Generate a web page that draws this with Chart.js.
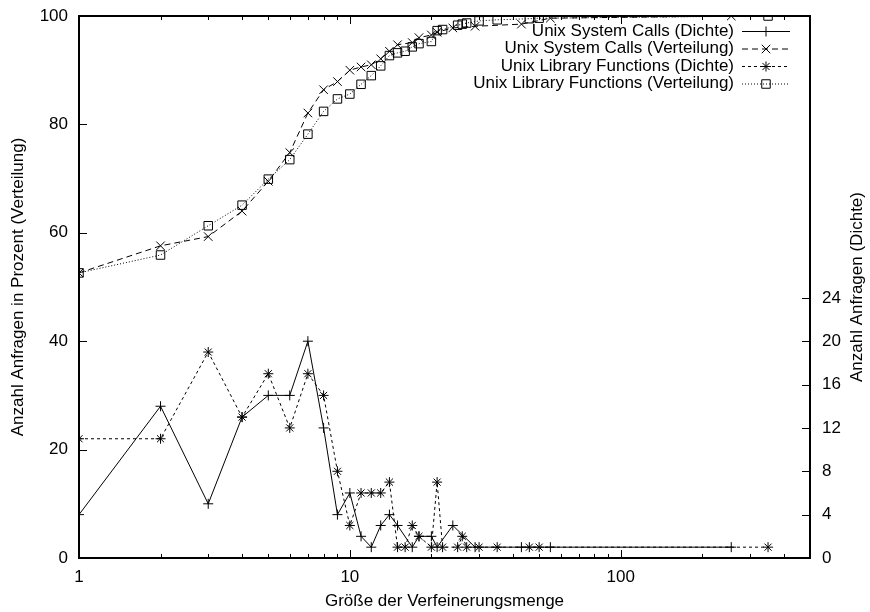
<!DOCTYPE html>
<html>
<head>
<meta charset="utf-8">
<script src="https://cdn.jsdelivr.net/npm/chart.js@4/dist/chart.umd.min.js"></script>
<style>
  body { margin: 0; background: #fff; }
  canvas { display: block; }
</style>
</head>
<body>
<canvas id="chart" width="870" height="612"></canvas>
<script>
// Values
const sysSizes = [1, 2, 3, 4, 5, 6, 7, 8, 9, 10, 11, 12, 13, 14, 15, 17, 18, 20, 21, 24, 29, 43, 55, 256];
const sysDensity = [4, 14, 5, 13, 15, 15, 20, 12, 4, 6, 2, 1, 3, 4, 3, 1, 2, 2, 1, 3, 1, 1, 1, 1];
const sysDistribution = [52.6, 57.6, 59.3, 64.0, 69.5, 74.8, 82.1, 86.4, 87.9, 90.0, 90.6, 91.0, 92.1, 93.5, 94.7, 95.1, 96.0, 96.5, 97.0, 97.8, 98.1, 98.5, 99.6, 100];

const libSizes = [1, 2, 3, 4, 5, 6, 7, 8, 9, 10, 11, 12, 13, 14, 15, 16, 17, 18, 20, 21, 22, 25, 26, 27, 30, 35, 46, 50, 350];
const libDensity = [11, 11, 19, 13, 17, 12, 17, 15, 8, 3, 6, 6, 6, 7, 1, 1, 3, 2, 1, 7, 1, 1, 2, 1, 1, 1, 1, 1, 1];
const libDistribution = [52.6, 55.9, 61.3, 65.1, 69.9, 73.5, 78.2, 82.4, 84.7, 85.6, 87.4, 89.0, 90.8, 92.7, 93.2, 93.5, 94.3, 94.9, 95.3, 97.3, 97.5, 98.3, 98.5, 98.7, 99.1, 99.3, 99.5, 99.6, 100];

const xTickValues = [1, 2, 3, 4, 5, 6, 7, 8, 9, 10, 20, 30, 40, 50, 60, 70, 80, 90, 100, 200, 300, 400, 500];
const xTickLabels = ['1', '10', '100'];
const leftTicks = [0, 20, 40, 60, 80, 100];
const rightTicks = [0, 4, 8, 12, 16, 20, 24];

const FONT = 'Liberation Sans, Arial, Helvetica, sans-serif';
const FSIZE = 17;

function points(xs, ys) {
    return xs.map((x, i) => ({ x: x, y: ys[i] }));
}

// gnuplot style frame: box border with inward tick marks, plus right axis title
const gnuFrame = {
    id: 'gnuFrame',
    afterDatasetsDraw(chart) {
        const { ctx, chartArea: a, scales } = chart;
        ctx.save();
        ctx.strokeStyle = '#000';
        ctx.lineWidth = 1;
        ctx.beginPath();
        scales.x.ticks.forEach(t => {
            const px = Math.round(scales.x.getPixelForValue(t.value)) + 0.5;
            const len = xTickLabels.includes(String(t.value)) ? 8 : 4;
            ctx.moveTo(px, a.bottom); ctx.lineTo(px, a.bottom - len);
            ctx.moveTo(px, a.top); ctx.lineTo(px, a.top + len);
        });
        scales.y.ticks.forEach(t => {
            const py = Math.round(scales.y.getPixelForValue(t.value)) + 0.5;
            ctx.moveTo(a.left, py); ctx.lineTo(a.left + 8, py);
        });
        scales.y2.ticks.forEach(t => {
            const py = Math.round(scales.y2.getPixelForValue(t.value)) + 0.5;
            ctx.moveTo(a.right, py); ctx.lineTo(a.right - 8, py);
        });
        ctx.stroke();

        ctx.lineWidth = 2;
        ctx.strokeRect(a.left, a.top, a.right - a.left, a.bottom - a.top);

        // right axis title, reading bottom to top like the left one
        ctx.fillStyle = '#000';
        ctx.font = FSIZE + 'px ' + FONT;
        ctx.textAlign = 'center';
        ctx.textBaseline = 'middle';
        ctx.translate(857, (a.top + a.bottom) / 2);
        ctx.rotate(-Math.PI / 2);
        ctx.fillText('Anzahl Anfragen (Dichte)', 0, 0);
        ctx.restore();
    }
};

// legend in the upper right corner, text right aligned, sample line after it
const gnuLegend = {
    id: 'gnuLegend',
    afterDatasetsDraw(chart) {
        const ctx = chart.ctx;
        ctx.save();
        chart.data.datasets.forEach((ds, i) => {
            const y = 31 + i * 17.5;
            ctx.fillStyle = '#000';
            ctx.font = FSIZE + 'px ' + FONT;
            ctx.textAlign = 'right';
            ctx.textBaseline = 'middle';
            ctx.fillText(ds.label, 734, y);

            ctx.strokeStyle = '#000';
            ctx.lineWidth = 1;
            ctx.setLineDash(ds.borderDash || []);
            ctx.beginPath();
            ctx.moveTo(742, y + 0.5);
            ctx.lineTo(790, y + 0.5);
            ctx.stroke();
            ctx.setLineDash([]);
            ctx.fillStyle = 'rgba(0,0,0,0)';
            Chart.helpers.drawPoint(ctx, {
                pointStyle: ds.pointStyle,
                radius: ds.pointRadius,
                borderWidth: 1,
                rotation: 0
            }, 766, y + 0.5);
        });
        ctx.restore();
    }
};

function fixVertical(width) {
    return scale => {
        scale.width = width;
        scale.paddingTop = 0;
        scale.paddingBottom = 0;
    };
}

new Chart(document.getElementById('chart'), {
    type: 'line',
    data: {
        datasets: [
            {
                label: 'Unix System Calls (Dichte)',
                data: points(sysSizes, sysDensity),
                yAxisID: 'y2',
                borderColor: '#000',
                borderWidth: 1,
                pointStyle: 'cross',
                pointRadius: 5,
                pointBorderColor: '#000',
                pointBorderWidth: 1
            },
            {
                label: 'Unix System Calls (Verteilung)',
                data: points(sysSizes, sysDistribution),
                yAxisID: 'y',
                borderColor: '#000',
                borderWidth: 1,
                borderDash: [6, 4],
                pointStyle: 'crossRot',
                pointRadius: 6,
                pointBorderColor: '#000',
                pointBorderWidth: 1
            },
            {
                label: 'Unix Library Functions (Dichte)',
                data: points(libSizes, libDensity),
                yAxisID: 'y2',
                borderColor: '#000',
                borderWidth: 1,
                borderDash: [3, 3],
                pointStyle: 'star',
                pointRadius: 5,
                pointBorderColor: '#000',
                pointBorderWidth: 1
            },
            {
                label: 'Unix Library Functions (Verteilung)',
                data: points(libSizes, libDistribution),
                yAxisID: 'y',
                borderColor: '#000',
                borderWidth: 1,
                borderDash: [1, 2],
                pointStyle: 'rect',
                pointRadius: 6,
                pointBackgroundColor: 'rgba(0,0,0,0)',
                pointBorderColor: '#000',
                pointBorderWidth: 1
            }
        ]
    },
    options: {
        responsive: false,
        animation: false,
        layout: { padding: { top: 16, left: 0, right: 0, bottom: 0 } },
        plugins: {
            legend: { display: false },
            tooltip: { enabled: false }
        },
        scales: {
            x: {
                type: 'logarithmic',
                position: 'bottom',
                min: 1,
                max: 500,
                afterBuildTicks: scale => {
                    scale.ticks = xTickValues.map(v => ({ value: v }));
                },
                afterFit: scale => {
                    scale.height = 54;
                    scale.paddingLeft = 0;
                    scale.paddingRight = 0;
                },
                grid: { display: false, drawTicks: false },
                border: { display: false },
                ticks: {
                    autoSkip: false,
                    maxRotation: 0,
                    padding: 9,
                    color: '#000',
                    font: { family: FONT, size: FSIZE },
                    callback: v => xTickLabels.includes(String(v)) ? String(v) : ''
                },
                title: {
                    display: true,
                    text: 'Größe der Verfeinerungsmenge',
                    color: '#000',
                    font: { family: FONT, size: FSIZE },
                    padding: { top: 0, bottom: 0 }
                }
            },
            y: {
                position: 'left',
                min: 0,
                max: 100,
                afterBuildTicks: scale => {
                    scale.ticks = leftTicks.map(v => ({ value: v }));
                },
                afterFit: fixVertical(79),
                grid: { display: false, drawTicks: false },
                border: { display: false },
                ticks: {
                    padding: 11,
                    color: '#000',
                    font: { family: FONT, size: FSIZE }
                },
                title: {
                    display: true,
                    text: 'Anzahl Anfragen in Prozent (Verteilung)',
                    color: '#000',
                    font: { family: FONT, size: FSIZE },
                    padding: { top: 8, bottom: 0 }
                }
            },
            y2: {
                position: 'right',
                min: 0,
                max: 50,
                afterBuildTicks: scale => {
                    scale.ticks = rightTicks.map(v => ({ value: v }));
                },
                afterFit: fixVertical(60),
                grid: { display: false, drawTicks: false },
                border: { display: false },
                ticks: {
                    padding: 12,
                    color: '#000',
                    font: { family: FONT, size: FSIZE }
                }
            }
        }
    },
    plugins: [gnuFrame, gnuLegend]
});
</script>
</body>
</html>
